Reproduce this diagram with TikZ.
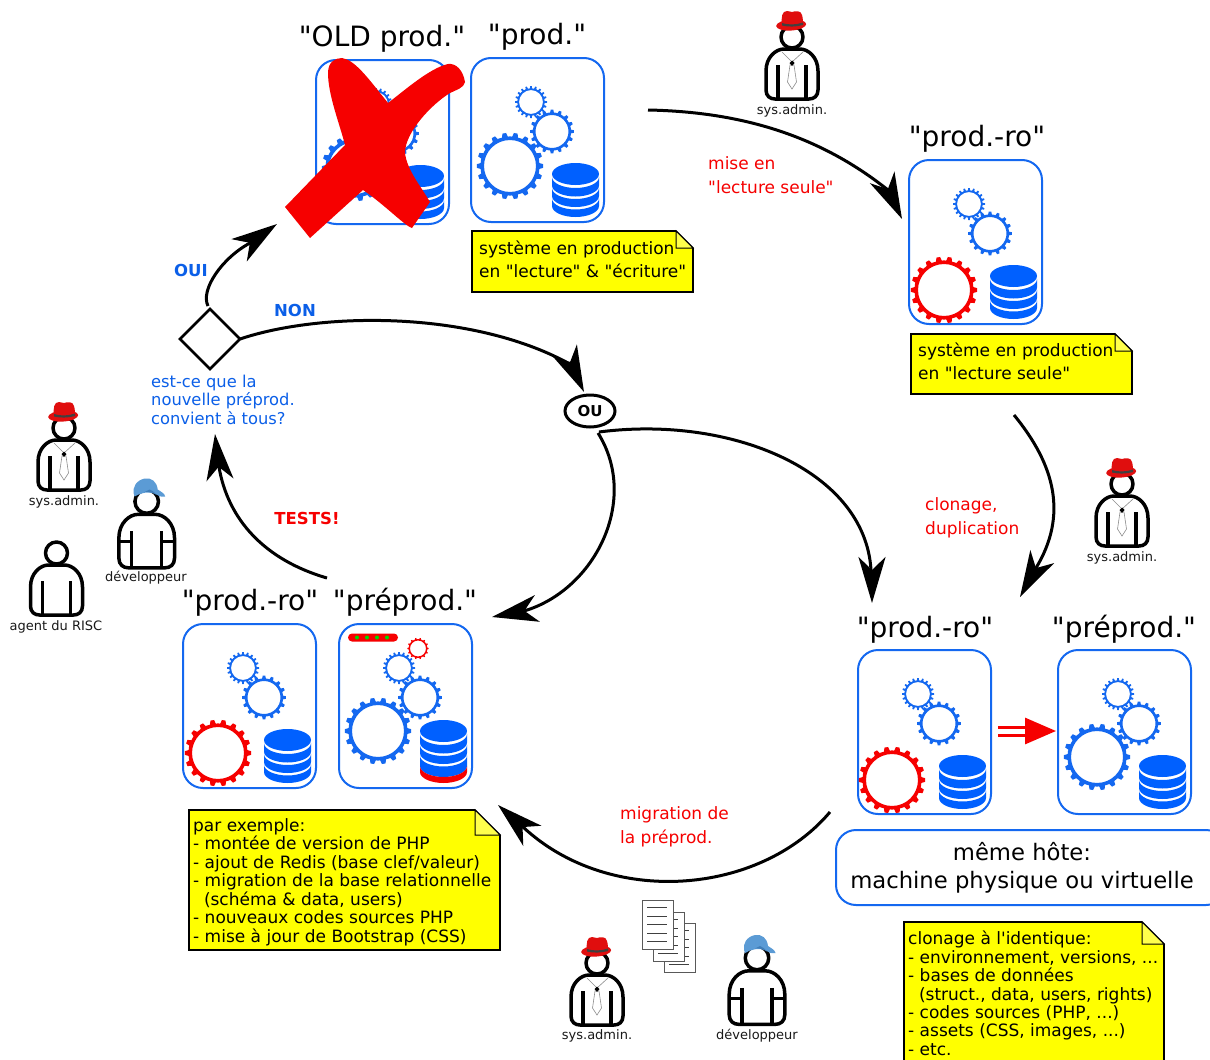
\documentclass[tikz,border=0pt]{standalone}
\usepackage{fontspec}
\setmainfont{DejaVu Sans}[Ligatures=TeXOff]
\usetikzlibrary{arrows.meta,calc,shapes.geometric}
\definecolor{bl}{HTML}{1468F0}
\definecolor{dbb}{HTML}{0060FF}
\definecolor{txb}{HTML}{0B5FE8}
\definecolor{rd}{HTML}{F60000}
\definecolor{hatred}{HTML}{E00E0E}
\definecolor{yl}{HTML}{FFFF00}
\definecolor{capb}{HTML}{5B9BD5}
\definecolor{capd}{HTML}{3F7DB8}
\tikzset{
  srv/.style={draw=bl,line width=2pt,rounded corners=20pt,minimum width=133pt,minimum height=164pt,anchor=north west,fill=white,inner sep=0pt,outer sep=0pt},
  hostbox/.style={draw=bl,line width=2pt,rounded corners=20pt,minimum width=390pt,minimum height=75pt,anchor=north west,fill=white,inner sep=0pt,outer sep=0pt},
  head/.style={font=\fontsize{28}{30}\selectfont,text=black,inner sep=0pt},
  who/.style={font=\fontsize{13}{15}\selectfont,text=black!90,inner sep=0pt},
  redlab/.style={font=\fontsize{17}{24}\selectfont,text=rd,align=left,anchor=west,inner sep=0pt},
  blulab/.style={font=\fontsize{16.3}{18.4}\selectfont,text=txb,align=left,anchor=north west,inner sep=0pt},
  boldred/.style={font=\fontsize{16.5}{18}\selectfont\bfseries,text=rd,inner sep=0pt},
  boldblu/.style={font=\fontsize{16.5}{18}\selectfont\bfseries,text=txb,inner sep=0pt},
  notetxt/.style={font=\fontsize{17}{#1}\selectfont,text=black,align=left,anchor=north west,inner sep=0pt},
  notebody/.style={fill=yl,draw=black,line width=1.6pt,line join=miter},
  fold/.style={draw=black,line width=1pt,fill=yl!70!white},
  flow/.style={draw=black,line width=3pt,-{Stealth[length=46pt,width=27pt,inset=13pt]}},
  redflow/.style={draw=rd,line width=3pt,double=white,double distance=5pt,-{Triangle[length=31pt,width=26pt,fill=rd]}},
  pers/.style={draw=black,line width=3.5pt,fill=white,line join=round},
  thin gray/.style={draw=black!45,line width=.6pt},
  page/.style={draw=black!65,line width=1pt,fill=white},
  pageline/.style={draw=black!75,line width=1pt},
}
% gear: cx cy innerradius ringwidth teethcount toothheight toothhalfwidth colour
\newcommand{\gearat}[8]{%
  \begin{scope}[shift={(#1,#2)}]
    \pgfmathsetmacro{\gstep}{360/#5}
    \pgfmathsetmacro{\gnext}{2*\gstep}
    \pgfmathsetmacro{\gend}{360-\gstep/2}
    \foreach \ga in {0,\gstep,...,\gend}{
      \fill[#8,rotate=\ga] (#3+#4-0.6,-#7) -- (#3+#4+#6,-#7*0.62) -- (#3+#4+#6,#7*0.62) -- (#3+#4-0.6,#7) -- cycle;
    }
    \pgfmathsetmacro{\gr}{#3+#4/2}
    \draw[#8,line width=#4 pt,fill=white] (0,0) circle[radius=\gr];
  \end{scope}}
\newcommand{\dbband}[3]{% offset1 offset2 colour
  \fill[#3] (-23.5,#1) arc[start angle=180,end angle=0,x radius=23.5,y radius=11] -- (23.5,#2) arc[start angle=0,end angle=180,x radius=23.5,y radius=11] -- cycle;}
\newcommand{\dbat}[2]{%
  \begin{scope}[shift={(#1,#2)}]
    \fill[dbb] (0,0) circle[x radius=23.5,y radius=11];
    \dbband{3}{11.5}{dbb}\dbband{14}{22}{dbb}\dbband{24.5}{32}{dbb}
  \end{scope}}
% server contents, origin at top left of box; #3 colour of big gear, #4,#5 big gear offset
\newcommand{\serverparts}[5]{%
  \begin{scope}[shift={(#1,#2)}]
    \gearat{#4}{#5}{26}{3.6}{18}{3.6}{3}{#3}
    \gearat{81}{73.5}{16.5}{2.6}{16}{2.8}{2}{bl}
    \gearat{60}{44}{12}{1.8}{20}{2.2}{1.2}{bl}
  \end{scope}}
\newcommand{\noteat}[6]{% name x0 y0 x1 y1 fold
  \path[notebody] (#2,#3) -- (#4-#6,#3) -- (#4,#3+#6) -- (#4,#5) -- (#2,#5) -- cycle;
  \path[fold] (#4-#6,#3) -- (#4-#6,#3+#6) -- (#4,#3+#6) -- cycle;}
\newcommand{\bodypath}{(-26,34) .. controls (-26,20) and (-16,12) .. (-8,12) -- (8,12) .. controls (16,12) and (26,20) .. (26,34) -- (26,53) .. controls (26,59) and (22,62) .. (17,62) -- (-17,62) .. controls (-22,62) and (-26,59) .. (-26,53) -- cycle}
\newcommand{\plainperson}[3]{% x y scale
  \begin{scope}[shift={(#1,#2)},scale=#3]
    \path[pers] \bodypath;
    \path[pers] (0,0) circle[radius=11];
    \draw[black,line width=3.5pt] (-14,28) -- (-14,62) (14,28) -- (14,62);
  \end{scope}}
\newcommand{\sysadmin}[2]{%
  \plainperson{#1}{#2}{1}
  \begin{scope}[shift={(#1,#2)}]
    \draw[thin gray] (-10,15) -- (0,25) -- (11,15);
    \draw[thin gray,fill=white] (-2,28) -- (-4.5,45) -- (0,52) -- (4.5,45) -- (2,28) -- cycle;
    \fill[black] (0,23.5) -- (2.5,26) -- (0,29) -- (-2.5,26) -- cycle;
    \fill[hatred,rotate=4] (0,-12) circle[x radius=15,y radius=5.5];
    \fill[hatred] (-10,-12) .. controls (-11,-20) and (-10,-26) .. (-5,-26) .. controls (-3,-26) and (-2,-25) .. (0,-25) .. controls (3,-26) and (9,-27) .. (10,-22) .. controls (11,-19) and (11,-15) .. (11,-12) -- cycle;
    \fill[black!75] (-10,-14) .. controls (-4,-12) and (4,-12) .. (11,-14.5) -- (11,-12) .. controls (4,-10) and (-4,-10) .. (-10,-11.5) -- cycle;
  \end{scope}}
\newcommand{\developer}[2]{%
  \plainperson{#1}{#2}{1.07}
  \begin{scope}[shift={(#1,#2)},scale=1.07]
    \draw[black,line width=3pt] (-26,37.5) -- (-14,37.5) (14,37.5) -- (26,37.5);
  \end{scope}
  \begin{scope}[shift={(#1,#2)}]
    \fill[capb] (-13,-8) .. controls (-14,-14) and (-11,-21) .. (-2,-23) .. controls (5,-24) and (10,-20) .. (11,-12) .. controls (14,-10) and (18,-8) .. (18.5,-5) .. controls (14,-4) and (11,-6) .. (8,-8) .. controls (2,-10) and (-6,-9) .. (-12,-5) -- cycle;
    \fill[capd] (-2,-9.5) .. controls (2,-10) and (6,-9) .. (10,-6.5) .. controls (8,-9) and (6,-11) .. (3,-12) -- cycle;
  \end{scope}}
\newcommand{\docpage}[2]{%
  \path[page] (#1,#2) rectangle ++(31,49.5);
  \draw[pageline] (#1+5,#2+7.5) -- ++(20,0) (#1+5,#2+16) -- ++(20,0) (#1+5,#2+24.5) -- ++(20,0) (#1+5,#2+33) -- ++(20,0) (#1+5,#2+41.5) -- ++(20,0);}
\begin{document}
\begin{tikzpicture}[x=1pt,y=-1pt]
\useasboundingbox (0,0) rectangle (1210,1060);
\clip (0,0) rectangle (1210,1060);
\fill[white] (0,0) rectangle (1210,1060);

% server boxes
\node[srv] (oldbox) at (316,60) {};
\node[srv] (prodbox) at (471,58) {};
\node[srv] (robox1) at (909,160) {};
\node[srv] (robox2) at (183,624) {};
\node[srv] (prebox1) at (339,624) {};
\node[srv] (robox3) at (858,650) {};
\node[srv] (prebox2) at (1058,650) {};
\serverparts{316}{60}{bl}{39}{108}
\serverparts{471}{58}{bl}{39}{108}
\serverparts{909}{160}{rd}{35}{130}
\serverparts{183}{624}{rd}{35}{129}
\serverparts{339}{624}{bl}{39}{107}
\serverparts{858}{650}{rd}{34}{130}
\serverparts{1058}{650}{bl}{39}{107}
\dbat{420.5}{176}
\dbat{575.5}{174}
\dbat{1013.5}{276}
\dbat{287.5}{740}
\dbat{962.5}{766}
\dbat{1162.5}{766}
% preprod database and extras
\begin{scope}[shift={(443.5,731)}]
  \fill[dbb] (0,0) circle[x radius=23.5,y radius=11];
  \dbband{3}{11.5}{dbb}\dbband{14}{22}{dbb}\dbband{24.5}{35}{dbb}\dbband{35}{41}{rd}
\end{scope}
\fill[rd,rounded corners=4pt] (348,633.5) rectangle (398,641.5);
\foreach \lx in {357,367,377,387}{\fill[green!85!black] (\lx,637.5) circle[radius=2];}
\gearat{418}{648.5}{8}{1.5}{14}{1.2}{0.9}{rd}

% headings
\node[head] (hold) at (382,39) {"OLD prod."};
\node[head] (hprod) at (537,37) {"prod."};
\node[head] (hro1) at (977,139) {"prod.-ro"};
\node[head] (hro2) at (250,603) {"prod.-ro"};
\node[head] (hpre1) at (405,602) {"préprod."};
\node[head] (hro3) at (925,630) {"prod.-ro"};
\node[head] (hpre2) at (1124,629) {"préprod."};

% big cross
\fill[rd] (328,73) .. controls (328,62) and (335,58) .. (342,58) .. controls (355,60) and (368,78) .. (388,103) .. controls (405,90) and (430,68) .. (448,64) .. controls (456,63) and (463,70) .. (465,82) .. controls (464,88) and (456,90) .. (450,93) .. controls (432,104) and (405,132) .. (405,153) .. controls (407,170) and (420,185) .. (430,202) -- (412,228) .. controls (405,226) and (385,205) .. (363,190) -- (310,238) -- (285,207) -- (345,145) .. controls (340,125) and (328,95) .. (328,73) -- cycle;

% notes
\noteat{n1}{472}{231}{693}{292}{17}
\node[notetxt=23] (note1) at (479,241) {système en production\\en "lecture" \& "écriture"};
\noteat{n2}{911}{334}{1132}{394}{17}
\node[notetxt=23] (note2) at (918,343) {système en production\\en "lecture seule"};
\noteat{n3}{189}{810}{500}{950}{25}
\node[notetxt=18.5] (note3) at (193,818) {par exemple:\\- montée de version de PHP\\- ajout de Redis (base clef/valeur)\\- migration de la base relationnelle\\\ \ (schéma \& data, users)\\- nouveaux codes sources PHP\\- mise à jour de Bootstrap (CSS)};
\noteat{n4}{904}{922}{1164}{1064}{22}
\node[notetxt=18.4] (note4) at (908,931) {clonage à l'identique:\\- environnement, versions, ...\\- bases de données\\\ \ (struct., data, users, rights)\\- codes sources (PHP, ...)\\- assets (CSS, images, ...)\\- etc.};

% host box
\node[hostbox] (host) at (836,830) {};
\node[font=\fontsize{22.7}{28.5}\selectfont,align=center,inner sep=0pt] (hosttxt) at (1022,868) {même hôte:\\machine physique ou virtuelle};

% decision and OU
\draw[black,line width=2.5pt,fill=white] (210,309) -- (240,339) -- (210,369) -- (180,339) -- cycle;
\coordinate (decN) at (208,306);
\coordinate (decE) at (240,339);
\node[draw=black,line width=3pt,ellipse,minimum width=50pt,minimum height=32pt,inner sep=0pt,font=\fontsize{15}{17}\selectfont\bfseries,fill=white] (ou) at (590,411) {OU};

% free ends: starts, points inside the heads, tips, heads' tails
\coordinate (c1a) at (648,110);
\coordinate (c1n) at (888,190);
\coordinate (c1b) at (902,219);
\coordinate (c1m) at ($(c1b)!.72!(882.5,178)$);
\coordinate (c2a) at (1014,415);
\coordinate (c2n) at (1036,568);
\coordinate (c2b) at (1020,597);
\coordinate (c2m) at ($(c2b)!.72!(1042,557)$);
\coordinate (c3a) at (998,731);
\coordinate (c3b) at (1056,731);
\coordinate (c4a) at (830,812);
\coordinate (c4n) at (523,827);
\coordinate (c4b) at (498,805);
\coordinate (c4m) at ($(c4b)!.72!(532.5,836)$);
\coordinate (c5a) at (327,578);
\coordinate (c5n) at (219,467);
\coordinate (c5b) at (215,434);
\coordinate (c5m) at ($(c5b)!.72!(220,480)$);
\coordinate (c6n) at (250,243);
\coordinate (c6b) at (277,224);
\coordinate (c6m) at ($(c6b)!.72!(239.5,250)$);
\coordinate (c7n) at (568,363);
\coordinate (c7b) at (584,392);
\coordinate (c7m) at ($(c7b)!.72!(564.5,350)$);
\coordinate (c8a) at (599,432);
\coordinate (c8n) at (871,570);
\coordinate (c8b) at (872,603);
\coordinate (c8m) at ($(c8b)!.72!(872,557)$);
\coordinate (c9a) at (598,433);
\coordinate (c9n) at (524,611);
\coordinate (c9b) at (492,617);
\coordinate (c9m) at ($(c9b)!.72!(537,608.5)$);

\draw[flow] (c1a) .. controls (750,112) and (825,140) .. (c1n) (c1m) -- (c1b);
\draw[flow] (c2a) .. controls (1055,465) and (1068,515) .. (c2n) (c2m) -- (c2b);
\draw[redflow] (c3a) -- (c3b);
\draw[flow] (c4a) .. controls (760,895) and (610,908) .. (c4n) (c4m) -- (c4b);
\draw[flow] (c5a) .. controls (265,560) and (228,520) .. (c5n) (c5m) -- (c5b);
\draw[flow] (decN) .. controls (200,290) and (222,258) .. (c6n) (c6m) -- (c6b);
\draw[flow] (decE) .. controls (320,312) and (470,310) .. (c7n) (c7m) -- (c7b);
\draw[flow] (c8a) .. controls (730,415) and (865,470) .. (c8n) (c8m) -- (c8b);
\draw[flow] (c9a) .. controls (640,500) and (595,590) .. (c9n) (c9m) -- (c9b);

% labels
\node[redlab] (l1) at (708,175) {mise en\\"lecture seule"};
\node[redlab] (l2) at (925,518) {clonage,\\duplication};
\node[redlab] (l3) at (620,827) {migration de\\la préprod.};
\node[boldred] (l4) at (307,518) {TESTS!};
\node[boldblu] (l5) at (191,270) {OUI};
\node[boldblu] (l6) at (295,310) {NON};
\node[blulab] (l7) at (151,375) {est-ce que la\\nouvelle préprod.\\convient à tous?};

% documents
\docpage{664}{923}
\docpage{653}{912}
\docpage{642}{900}

% people
\sysadmin{792}{37}
\node[who] (w1) at (792,111) {sys.admin.};
\sysadmin{1122}{484}
\node[who] (w2) at (1122,558) {sys.admin.};
\sysadmin{64}{428}
\node[who] (w3) at (64,502) {sys.admin.};
\sysadmin{597}{963}
\node[who] (w4) at (597,1036) {sys.admin.};
\developer{146.7}{501.5}
\node[who] (w5) at (146,578) {développeur};
\developer{757}{958}
\node[who] (w6) at (757,1036) {développeur};
\plainperson{56.5}{553}{1}
\node[who] (w7) at (56,627) {agent du RISC};
\end{tikzpicture}
\end{document}
